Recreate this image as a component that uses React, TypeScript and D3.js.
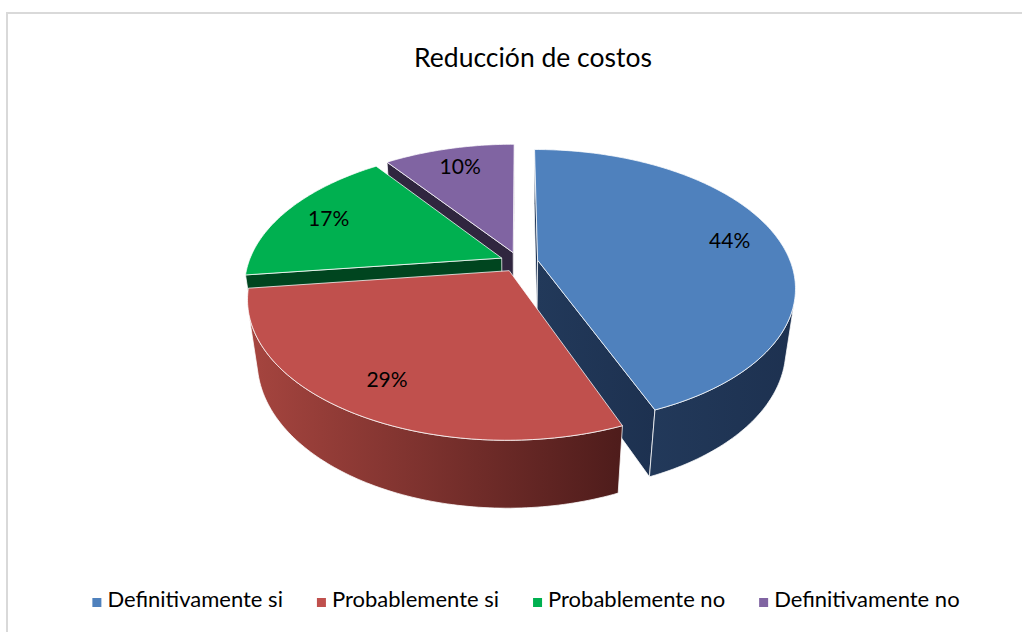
import React, { useMemo } from "react";
import * as d3 from "d3";

// ---- data ----
const title = "Reducción de costos";
const categories = ["Definitivamente si", "Probablemente si", "Probablemente no", "Definitivamente no"];
const values = [44, 29, 17, 10];

// ---- style ----
const topColors = ["#4F81BD", "#C0504D", "#00B050", "#8064A2"];
const sideStops = [
  ["#22395A", "#1D3150"],
  ["#A6453F", "#4E1C1B"],
  ["#00451F", "#00451F"],
  ["#30263F", "#30263F"],
];
const W = 1022;
const H = 632;
const FONT = "Lato, 'Open Sans', sans-serif";

// 3D view parameters
const cx = 519;
const cy = 262;
const camDist = 4.38;
const tilt = Math.asin(0.525);
const focal = 1108;
const thickness = 0.29;
const explode = 0.075;
const labelRadius = 0.8;

type P3 = [number, number, number];

export default function App() {
  const s = Math.sin(tilt);
  const c = Math.cos(tilt);
  const proj = (p: P3): [number, number] => {
    const [X, Y, Z] = p;
    const d = camDist + Z * c - Y * s;
    const v = Y * c + Z * s;
    return [cx + (focal * X) / d, cy - (focal * v) / d];
  };
  const depth = (p: P3) => p[2] * c - p[1] * s;
  const cam: P3 = [0, camDist * s, -camDist * c];
  const visible = (n: P3, p: P3) =>
    n[0] * (cam[0] - p[0]) + n[1] * (cam[1] - p[1]) + n[2] * (cam[2] - p[2]) > 0;
  const avg = (pts: P3[]): P3 => [
    d3.mean(pts, (p) => p[0])!,
    d3.mean(pts, (p) => p[1])!,
    d3.mean(pts, (p) => p[2])!,
  ];

  const total = d3.sum(values);
  const fmt = d3.format(".0%");
  const pathGen = d3.line().curve(d3.curveLinearClosed);

  const { sides, tops, labels } = useMemo(() => {
    const arcs = d3.pie<number>().sort(null).startAngle(0).endAngle(2 * Math.PI)(values);
    const sides: { pts: [number, number][]; depth: number; i: number }[] = [];
    const tops: { pts: [number, number][]; i: number }[] = [];
    const labels: { x: number; y: number; text: string }[] = [];
    const step = Math.PI / 180;
    const h = -thickness;
    arcs.forEach((a, i) => {
      const a0 = a.startAngle;
      const a1 = a.endAngle;
      const mid = (a0 + a1) / 2;
      const ox = explode * Math.sin(mid);
      const oz = explode * Math.cos(mid);
      const rim = (t: number, Y: number): P3 => [ox + Math.sin(t), Y, oz + Math.cos(t)];
      const apex = (Y: number): P3 => [ox, Y, oz];
      const samples = d3.range(a0, a1, step).concat([a1]);

      tops.push({ pts: [apex(0), ...samples.map((t) => rim(t, 0))].map(proj), i });

      const w0: P3[] = [apex(0), rim(a0, 0), rim(a0, h), apex(h)];
      if (visible([-Math.cos(a0), 0, Math.sin(a0)], avg(w0)))
        sides.push({ pts: w0.map(proj), depth: depth(avg(w0)), i });
      const w1: P3[] = [apex(0), rim(a1, 0), rim(a1, h), apex(h)];
      if (visible([Math.cos(a1), 0, -Math.sin(a1)], avg(w1)))
        sides.push({ pts: w1.map(proj), depth: depth(avg(w1)), i });

      const vis = samples.filter((t) => visible([Math.sin(t), 0, Math.cos(t)], rim(t, h / 2)));
      if (vis.length > 1) {
        const op: P3[] = [
          ...vis.map((t) => rim(t, 0)),
          ...vis.slice().reverse().map((t) => rim(t, h)),
        ];
        sides.push({ pts: op.map(proj), depth: depth(avg(op)), i });
      }

      const [lx, ly] = proj([
        ox + labelRadius * Math.sin(mid),
        0,
        oz + labelRadius * Math.cos(mid),
      ]);
      labels.push({ x: lx, y: ly, text: fmt(values[i] / total) });
    });
    sides.sort((p, q) => q.depth - p.depth);
    return { sides, tops, labels };
  }, []);

  // legend layout
  const legendFont = 22;
  const legend = useMemo(() => {
    const ctx = document.createElement("canvas").getContext("2d")!;
    ctx.font = `${legendFont}px Lato`;
    const marker = 9;
    const gapText = 6;
    const gapItem = 34;
    const widths = categories.map((t) => ctx.measureText(t).width);
    const itemW = widths.map((w) => marker + gapText + w);
    const totalW = d3.sum(itemW) + gapItem * (categories.length - 1);
    let x = 526 - totalW / 2;
    return categories.map((t, i) => {
      const item = { x, text: t, i };
      x += itemW[i] + gapItem;
      return item;
    });
  }, []);

  return (
    <svg
      width={W}
      height={H}
      style={{ position: "absolute", left: 0, top: 0, background: "#fff" }}
      fontFamily={FONT}
    >
      <defs>
        {sides.map((f, k) => {
          const xs = f.pts.map((p) => p[0]);
          return (
            <linearGradient
              key={k}
              id={`sg${k}`}
              gradientUnits="userSpaceOnUse"
              x1={d3.min(xs)}
              x2={d3.max(xs)}
              y1={0}
              y2={0}
            >
              <stop offset="0" stopColor={sideStops[f.i][0]} />
              <stop offset="1" stopColor={sideStops[f.i][1]} />
            </linearGradient>
          );
        })}
      </defs>
      <rect x={0} y={0} width={W} height={H} fill="#fff" />
      <rect x={7} y={13} width={W + 20} height={H + 20} fill="#fff" stroke="#D9D9D9" strokeWidth={2} />
      <text x={533} y={67} textAnchor="middle" fontSize={26.5} fill="#000">
        {title}
      </text>
      <g>
        {sides.map((f, k) => (
          <path
            key={k}
            d={pathGen(f.pts)!}
            fill={`url(#sg${k})`}
            stroke="#ffffff"
            strokeOpacity={0.75}
            strokeWidth={1}
            strokeLinejoin="round"
          />
        ))}
        {tops.map((f, k) => (
          <path
            key={k}
            d={pathGen(f.pts)!}
            fill={topColors[f.i]}
            stroke="#ffffff"
            strokeOpacity={0.75}
            strokeWidth={1}
            strokeLinejoin="round"
          />
        ))}
      </g>
      <g fontSize={21} fill="#000">
        {labels.map((l, k) => (
          <text key={k} x={l.x} y={l.y} dy="0.35em" textAnchor="middle">
            {l.text}
          </text>
        ))}
      </g>
      <g fontSize={legendFont} fill="#000">
        {legend.map((it) => (
          <g key={it.i}>
            <rect x={it.x} y={598} width={9} height={9} fill={topColors[it.i]} />
            <text x={it.x + 15} y={607}>
              {it.text}
            </text>
          </g>
        ))}
      </g>
    </svg>
  );
}
